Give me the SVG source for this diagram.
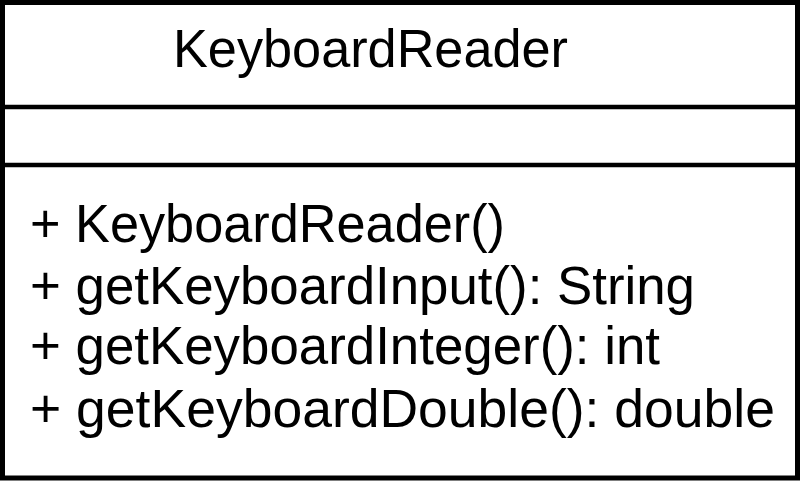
<svg xmlns="http://www.w3.org/2000/svg" width="800" height="481" viewBox="0 0 800 481">
<style>
.box{fill:#ffffff;stroke:#000000;stroke-width:5}
.div{stroke:#000000;stroke-width:4.5}
.t{font-family:"Liberation Sans",Arial,sans-serif;font-size:54px;fill:#000000}
</style>
<g id="KeyboardReader">
<rect class="box" x="2.5" y="2.5" width="795" height="475.5"/>
<line class="div" x1="0" y1="107" x2="800" y2="107"/>
<line class="div" x1="0" y1="165" x2="800" y2="165"/>
<text class="t" x="173" y="67" textLength="395" lengthAdjust="spacingAndGlyphs">KeyboardReader</text>
<text class="t" x="30" y="242" textLength="475" lengthAdjust="spacingAndGlyphs">+ KeyboardReader()</text>
<text class="t" x="30" y="304" textLength="665" lengthAdjust="spacingAndGlyphs">+ getKeyboardInput(): String</text>
<text class="t" x="30" y="364" textLength="630" lengthAdjust="spacingAndGlyphs">+ getKeyboardInteger(): int</text>
<text class="t" x="30" y="427" textLength="745" lengthAdjust="spacingAndGlyphs">+ getKeyboardDouble(): double</text>
</g>
<g id="connectors"/>
</svg>
